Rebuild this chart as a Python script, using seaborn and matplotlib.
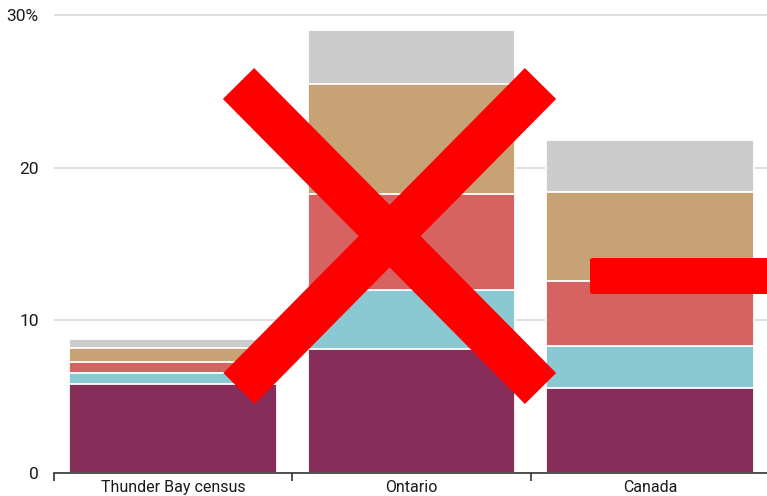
import matplotlib
matplotlib.use("Agg")
import matplotlib.pyplot as plt
from matplotlib.lines import Line2D
from matplotlib.patches import FancyBboxPatch
import numpy as np
import pandas as pd
import seaborn as sns

# Share of population by group (%), stacked bottom to top
categories = ["Thunder Bay census", "Ontario", "Canada"]
purple_vals = [5.8, 8.1, 5.6]
teal_vals = [0.75, 3.9, 2.7]
red_vals = [0.7, 6.3, 4.3]
tan_vals = [0.95, 7.2, 5.8]
grey_vals = [0.55, 3.5, 3.4]

layers = [purple_vals, teal_vals, red_vals, tan_vals, grey_vals]
colors = ["#862d59", "#8ac9d1", "#d66362", "#c6a274", "#cccccc"]

yticks = [0, 10, 20, 30]
ytick_labels = ["0", "10", "20", "30%"]

sns.set_theme(style="white")
plt.rcParams["font.family"] = ["Roboto", "DejaVu Sans"]

W, H = 767, 496
fig = plt.figure(figsize=(W / 100, H / 100), dpi=100)
ax = fig.add_axes([54 / W, 23 / H, 715 / W, 463 / H])

# cumulative totals drawn from the top layer down so each shows as a band
cum = np.cumsum(np.array(layers), axis=0)
for i in range(len(layers) - 1, -1, -1):
    df = pd.DataFrame({"cat": categories, "val": cum[i]})
    sns.barplot(data=df, x="cat", y="val", color=colors[i], saturation=1,
                width=0.87, edgecolor="white", linewidth=1.3, ax=ax, zorder=2)

ax.set_xlim(-0.5, 2.5)
ax.set_ylim(0, 30 * 463 / 458)
ax.set_xlabel("")
ax.set_ylabel("")
ax.set_yticks(yticks)
ax.set_yticklabels(ytick_labels)
ax.yaxis.grid(True, color="#d9d9d9", linewidth=1.2, zorder=0)
ax.set_axisbelow(True)
for s in ["top", "right", "left"]:
    ax.spines[s].set_visible(False)
ax.spines["bottom"].set_color("#333333")
ax.spines["bottom"].set_linewidth(1.2)
ax.spines["bottom"].set_zorder(5)

ax.tick_params(axis="y", length=0, pad=11, labelsize=12.5, labelcolor="#1a1a1a")
ax.set_xticks([0, 1, 2])
ax.set_xticklabels(categories)
ax.tick_params(axis="x", which="major", bottom=True, length=0, pad=5,
               labelsize=11.5, labelcolor="#1a1a1a")
# boundary ticks between categories
ax.set_xticks([-0.5, 0.5, 1.5, 2.5], minor=True)
ax.tick_params(axis="x", which="minor", bottom=True, length=6, width=1.2,
               color="#333333", direction="out")

# red cross and dash overlay, in pixel coordinates
to_fig = lambda x, y: (x / W, 1 - y / H)
lw_pt = 44 * 72 / 100
for (x0, y0), (x1, y1) in [((238.5, 83.5), (540.5, 388.5)),
                           ((540.5, 83.5), (239.0, 388.5))]:
    a, b = to_fig(x0, y0), to_fig(x1, y1)
    fig.add_artist(Line2D([a[0], b[0]], [a[1], b[1]], transform=fig.transFigure,
                          color="#ff0000", linewidth=lw_pt,
                          solid_capstyle="butt", zorder=10))
dx0, dy0 = to_fig(590, 294)
fig.add_artist(FancyBboxPatch((dx0, dy0), (800 - 590) / W, 36 / H,
                              boxstyle="round,pad=0,rounding_size=0.004",
                              transform=fig.transFigure, facecolor="#ff0000",
                              edgecolor="none", zorder=10))

fig.savefig("out.png", dpi=100)
